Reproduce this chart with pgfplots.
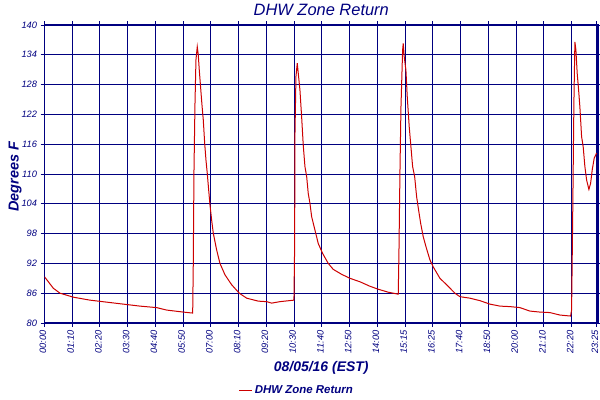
\documentclass[border=0pt]{standalone}
\usepackage{fontspec}
\setmainfont{Liberation Sans}
\usepackage{pgfplots}
\pgfplotsset{compat=1.18}
\definecolor{navy}{RGB}{0,0,128}
\definecolor{trace}{RGB}{204,0,0}
\begin{document}
\begin{tikzpicture}
  \path[use as bounding box] (0,0) rectangle (600bp,400bp);
  \begin{axis}[
      at={(44.5bp,77bp)}, anchor=south west,
      scale only axis,
      width=553.5bp, height=298bp,
      xmin=0, xmax=19.95,
      ymin=80, ymax=140,
      ytick={80,86,...,140},
      xtick={0,1,...,19,19.89},
      xticklabels={00:00,01:10,02:20,03:30,04:40,05:50,07:00,08:10,09:20,10:30,
                   11:40,12:50,14:00,15:15,16:25,17:40,18:50,20:00,21:10,22:20,23:25},
      grid=major,
      major grid style={line width=1bp, draw=navy},
      axis line style={line width=1.4bp, draw=navy},
      tick style={line width=1bp, draw=navy},
      tick align=outside,
      major tick length=4bp,
      /pgf/number format/assume math mode=true,
      tick label style={font=\itshape\fontsize{9.3}{10}\selectfont, text=navy},
      x tick label style={rotate=90, anchor=east, yshift=1.5bp},
      every axis title shift=0pt,
      title={DHW Zone Return},
      title style={font=\itshape\fontsize{16.5}{18}\selectfont, text=navy,
                   at={(axis description cs:0.5,1.050)}, anchor=center},
      xlabel={08/05/16 (EST)},
      xlabel style={font=\bfseries\itshape\fontsize{14}{16}\selectfont, text=navy,
                    at={(axis description cs:0.5,-0.151)}, anchor=center},
      ylabel={Degrees F},
      ylabel style={font=\bfseries\itshape\fontsize{14.5}{16}\selectfont, text=navy,
                    at={(axis description cs:-0.053,0.49)}, anchor=center},
      legend style={at={(axis description cs:0.456,-0.225)}, anchor=center,
                    draw=none, fill=none,
                    font=\bfseries\itshape\fontsize{11.5}{13}\selectfont, text=navy},
      legend image code/.code={\draw[#1] (0bp,0bp) -- (13bp,0bp);},
    ]
    \addplot[trace, line width=1bp, sharp plot] coordinates {
      (0.000,89.3) (0.043,89.0) (0.317,87.0) (0.559,86.0) (1.038,85.2) (1.640,84.6)
      (2.241,84.2) (2.840,83.8) (3.441,83.4) (4.043,83.1) (4.404,82.6) (5.002,82.2)
      (5.341,82.0) (5.362,91.7) (5.387,110.3) (5.423,123.9) (5.459,133.0) (5.506,135.6)
      (5.542,134.0) (5.578,131.0) (5.629,127.3) (5.676,123.9) (5.723,120.9) (5.773,116.2)
      (5.820,112.8) (5.867,110.1) (5.917,106.8) (5.964,103.8) (6.025,100.7) (6.083,98.1)
      (6.205,94.7) (6.324,92.0) (6.505,89.7) (6.746,87.7) (7.020,86.0) (7.286,85.0)
      (7.705,84.4) (8.007,84.3) (8.187,84.0) (8.486,84.3) (8.991,84.6) (9.016,95.7)
      (9.027,117.8) (9.063,129.6) (9.110,132.3) (9.146,130.3) (9.207,126.9) (9.268,121.5)
      (9.326,115.8) (9.387,111.5) (9.449,109.5) (9.506,106.1) (9.568,104.1) (9.629,101.4)
      (9.748,98.7) (9.867,96.0) (10.025,94.0) (10.227,92.0) (10.407,90.8) (10.710,89.8)
      (11.009,89.0) (11.369,88.3) (11.730,87.4) (12.029,86.8) (12.389,86.2) (12.750,85.8)
      (12.775,94.0) (12.811,110.1) (12.847,123.2) (12.908,135.0) (12.930,136.3) (12.966,133.6)
      (13.027,130.9) (13.074,125.6) (13.146,119.5) (13.207,115.5) (13.268,111.5) (13.341,109.5)
      (13.413,105.4) (13.485,102.7) (13.557,100.1) (13.650,97.4) (13.748,95.4) (13.892,92.7)
      (14.011,91.3) (14.252,89.0) (14.494,87.7) (14.793,86.0) (14.973,85.3) (15.333,85.0)
      (15.694,84.5) (16.054,83.8) (16.414,83.4) (16.775,83.3) (17.135,83.1) (17.495,82.4)
      (17.856,82.2) (18.216,82.1) (18.577,81.6) (18.962,81.4) (18.998,82.6) (19.034,99.4)
      (19.081,124.2) (19.117,136.6) (19.153,135.0) (19.200,130.3) (19.251,126.9) (19.297,123.5)
      (19.359,117.5) (19.416,115.5) (19.477,111.5) (19.539,108.8) (19.622,106.9) (19.683,108.1)
      (19.741,110.8) (19.813,113.2) (19.899,114.2)
    };
    \addlegendentry{DHW Zone Return}
  \end{axis}
\end{tikzpicture}
\end{document}
